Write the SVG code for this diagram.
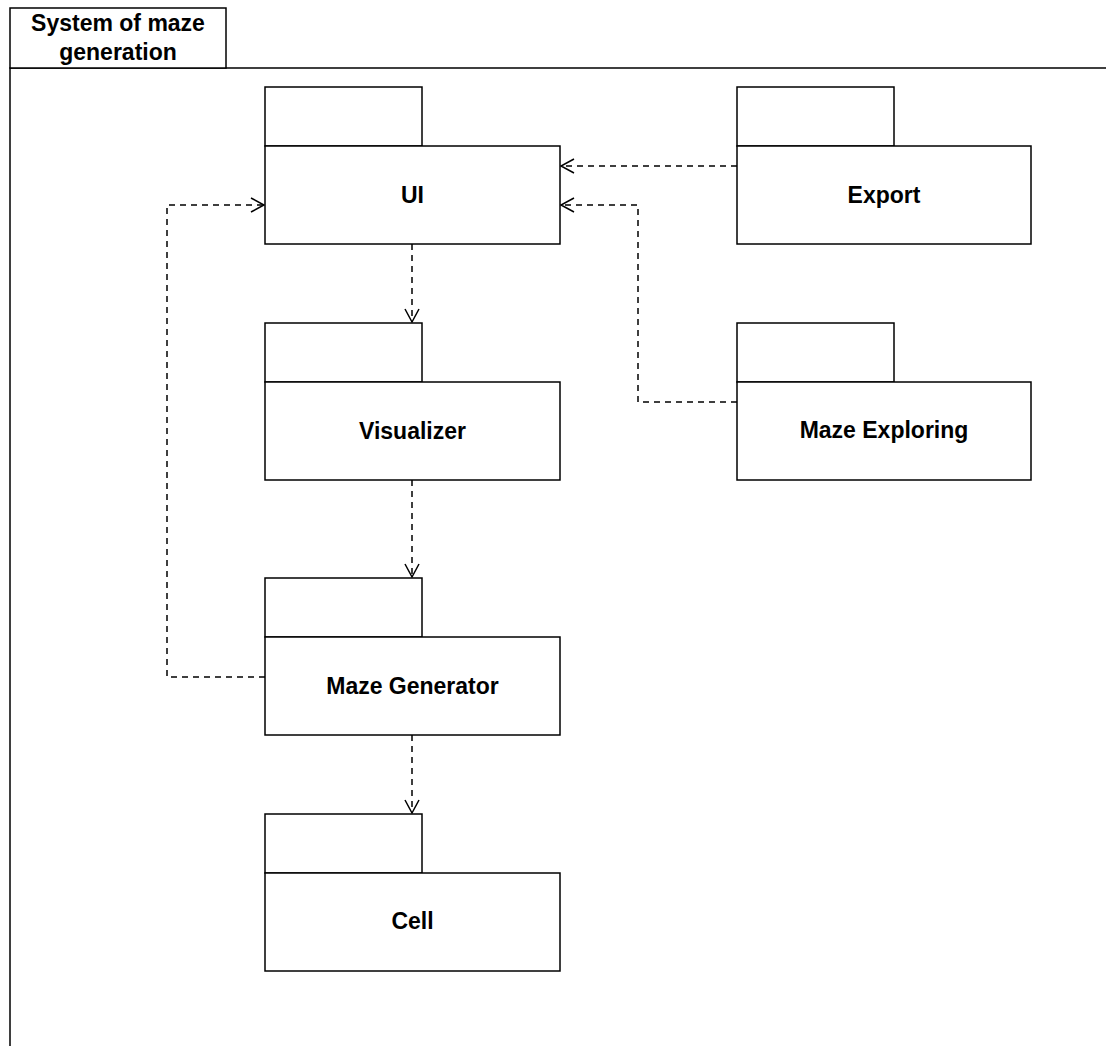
<svg xmlns="http://www.w3.org/2000/svg" width="1106" height="1046" viewBox="0 0 1106 1046">
  <style>
    .shape { fill: #ffffff; stroke: #000000; stroke-width: 1.5; }
    .label { font-family: "Liberation Sans", Arial, Helvetica, sans-serif; font-weight: bold; font-size: 23px; fill: #000000; text-anchor: middle; }
    .dep { fill: none; stroke: #000000; stroke-width: 1.5; stroke-dasharray: 6 5; marker-end: url(#open-arrow); }
  </style>
  <defs>
    <marker id="open-arrow" markerUnits="userSpaceOnUse" viewBox="-16 -10 20 20" refX="0" refY="0" markerWidth="20" markerHeight="20" orient="auto" overflow="visible">
      <path d="M-13,-7 L0,0 L-13,7" fill="none" stroke="#000000" stroke-width="1.5" stroke-dasharray="none"/>
    </marker>
  </defs>

  <rect width="1106" height="1046" fill="#ffffff"/>

  <!-- enclosing system frame with its name tab -->
  <g id="system-frame">
    <path d="M10,1046 V68 H1106" fill="none" stroke="#000000" stroke-width="1.5"/>
    <rect class="shape" x="10" y="8" width="216" height="60"/>
    <text class="label" x="118" y="31">System of maze</text>
    <text class="label" x="118" y="60">generation</text>
  </g>

  <!-- dependency connectors -->
  <g id="connectors">
    <path class="dep" d="M737,166 H561"/>
    <path class="dep" d="M737,402 H638 V205 H561"/>
    <path class="dep" d="M412,244 V322"/>
    <path class="dep" d="M412,480 V577"/>
    <path class="dep" d="M412,735 V813"/>
    <path class="dep" d="M265,677 H167 V205 H264"/>
  </g>

  <!-- packages -->
  <g id="pkg-ui">
    <rect class="shape" x="265" y="87" width="157" height="59"/>
    <rect class="shape" x="265" y="146" width="295" height="98"/>
    <text class="label" x="412.5" y="203">UI</text>
  </g>

  <g id="pkg-export">
    <rect class="shape" x="737" y="87" width="157" height="59"/>
    <rect class="shape" x="737" y="146" width="294" height="98"/>
    <text class="label" x="884" y="203">Export</text>
  </g>

  <g id="pkg-visualizer">
    <rect class="shape" x="265" y="323" width="157" height="59"/>
    <rect class="shape" x="265" y="382" width="295" height="98"/>
    <text class="label" x="412.5" y="439">Visualizer</text>
  </g>

  <g id="pkg-maze-exploring">
    <rect class="shape" x="737" y="323" width="157" height="59"/>
    <rect class="shape" x="737" y="382" width="294" height="98"/>
    <text class="label" x="884" y="438">Maze Exploring</text>
  </g>

  <g id="pkg-maze-generator">
    <rect class="shape" x="265" y="578" width="157" height="59"/>
    <rect class="shape" x="265" y="637" width="295" height="98"/>
    <text class="label" x="412.5" y="694">Maze Generator</text>
  </g>

  <g id="pkg-cell">
    <rect class="shape" x="265" y="814" width="157" height="59"/>
    <rect class="shape" x="265" y="873" width="295" height="98"/>
    <text class="label" x="412.5" y="929">Cell</text>
  </g>
</svg>
